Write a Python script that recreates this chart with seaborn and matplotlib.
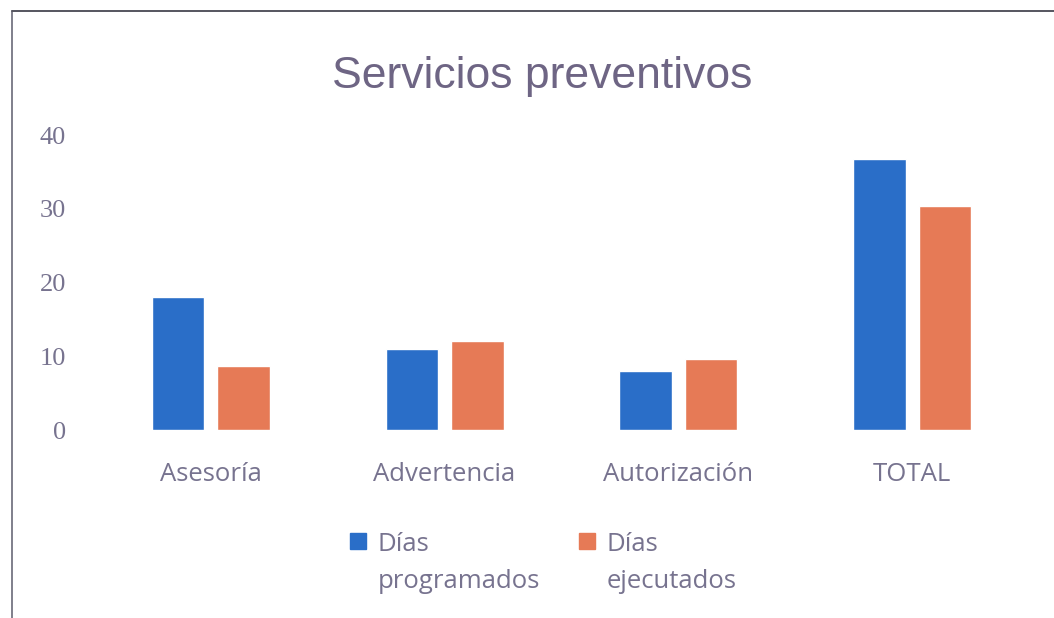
import pandas as pd
import matplotlib.pyplot as plt
import seaborn as sns
from matplotlib.lines import Line2D

# chart data
categorias = ['Asesoría', 'Advertencia', 'Autorización', 'TOTAL']
programados = [18, 11, 8, 36.8]
ejecutados = [8.7, 12.1, 9.7, 30.4]
series = ['Días\nprogramados', 'Días\nejecutados']

df = pd.DataFrame({
    'categoria': categorias * 2,
    'dias': programados + ejecutados,
    'serie': [series[0]] * len(categorias) + [series[1]] * len(categorias),
})

blue = '#2A6EC8'
orange = '#E67A56'
txt = '#77738f'

sns.set_theme(style='white')
plt.rcParams['font.family'] = ['Open Sans', 'DejaVu Sans']

f = plt.figure(figsize=(10.54, 6.18), dpi=100)
ax = f.add_axes([0.0892, 0.304, 0.887, 0.4775])
sns.barplot(data=df, x='categoria', y='dias', hue='serie', ax=ax,
            palette=[blue, orange], width=0.56, gap=0.2, saturation=1)

sns.despine(f, left=True, bottom=True)
ax.set_ylim(0, 40)
ax.set_xlim(-0.5, 3.5)
ax.set_yticks([0, 10, 20, 30, 40])
ax.set_xlabel('')
ax.set_ylabel('')
ax.tick_params(axis='x', length=0, pad=23, labelsize=18.5, labelcolor=txt)
ax.tick_params(axis='y', length=0, pad=20, labelcolor=txt)
for lab in ax.get_yticklabels():
    lab.set_family('Liberation Serif')
    lab.set_fontsize(19)

f.suptitle('Servicios preventivos', x=0.514, y=0.877, va='center', fontsize=32,
           color='#6e6584', family='Liberation Sans')

# legend
ax.get_legend().remove()
handles = [Line2D([], [], marker='s', linestyle='', markersize=11, color=c) for c in [blue, orange]]
leg = f.legend(handles, series, loc='upper center', bbox_to_anchor=(0.514, 0.176),
               ncol=2, frameon=False, fontsize=18.5, labelcolor=txt,
               handletextpad=0.3, columnspacing=1.4, handlelength=0.9)
for t in leg.get_texts():
    t.set_linespacing(1.6)
# put the square next to the first line of each label
for col in leg._legend_handle_box.get_children():
    for row in col.get_children():
        row.align = 'top'

# outer frame like the scanned page
f.add_artist(Line2D([0.0114, 0.0114], [0, 0.982], transform=f.transFigure, color='#6a6a78', lw=1.2))
f.add_artist(Line2D([0.0114, 1], [0.982, 0.982], transform=f.transFigure, color='#55555f', lw=1.4))

f.savefig('out.png', dpi=100)
